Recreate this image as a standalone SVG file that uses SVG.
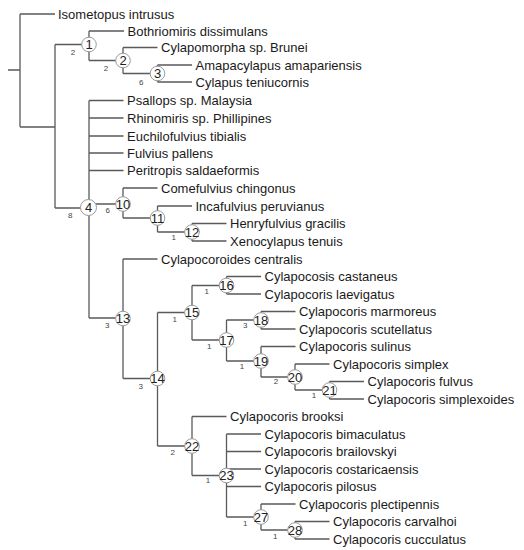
<svg xmlns="http://www.w3.org/2000/svg" width="524" height="550" viewBox="0 0 524 550">
<style>
.br{fill:none;stroke:#5a5a5a;stroke-width:1.3}
.nc{fill:#fff;stroke:#9a9a9a;stroke-width:1}
.nn{font-family:"Liberation Sans",Arial,sans-serif;font-size:13px;fill:#222;text-anchor:middle}
.bl{font-family:"Liberation Sans",Arial,sans-serif;font-size:8px;fill:#444;text-anchor:middle}
.lf{font-family:"Liberation Sans",Arial,sans-serif;font-size:13px;fill:#1a1a1a}
</style>
<rect width="524" height="550" fill="#fff"/>
<g id="connectors" class="br">
<path d="M8,70H20M20,14V127M20,14H55"/>
<path d="M20,127H55M55,44.5V208"/>
<path d="M55,44.5H89M89,31V60.5M89,31H124"/>
<path d="M89,60.5H123M123,47.5V73.5M123,47.5H157.5"/>
<path d="M123,73.5H157.5M157.5,65V82M157.5,65H192M157.5,82H192"/>
<path d="M55,208H89M89,100.5V318M89,100.5H123.5M89,118H123.5M89,136H123.5M89,153H123.5M89,170.5H123.5"/>
<path d="M89,204H123M123,188V218M123,188H157.5"/>
<path d="M123,218H157.5M157.5,206V232M157.5,206H192"/>
<path d="M157.5,232H192M192,223.5V241M192,223.5H226.5M192,241H226.5"/>
<path d="M89,318H123M123,259V378.5M123,259H157.5"/>
<path d="M123,378.5H157.5M157.5,312.5V446"/>
<path d="M157.5,312.5H192M192,285.5V340"/>
<path d="M192,285.5H226.5M226.5,276.5V294M226.5,276.5H261M226.5,294H261"/>
<path d="M192,340H226.5M226.5,320V361"/>
<path d="M226.5,320H261M261,311.5V329M261,311.5H295.5M261,329H295.5"/>
<path d="M226.5,361H261M261,346.5V377M261,346.5H295.5"/>
<path d="M261,377H295M295,364V390M295,364H329.5"/>
<path d="M295,390H329.5M329.5,381.5V399M329.5,381.5H364M329.5,399H364"/>
<path d="M157.5,446H192M192,416.5V475.5M192,416.5H226.5"/>
<path d="M192,475.5H226.5M226.5,434V517M226.5,434H261M226.5,451.5H261M226.5,469H261M226.5,486.5H261"/>
<path d="M226.5,517H261M261,504V530M261,504H295.5"/>
<path d="M261,530H295M295,521.5V539M295,521.5H329.5M295,539H329.5"/>
</g>
<g id="node1"><circle class="nc" cx="89" cy="44.5" r="7.3"/><text class="nn" x="89" y="49.2">1</text><text class="bl" x="73" y="55">2</text></g>
<g id="node2"><circle class="nc" cx="123" cy="60.5" r="7.3"/><text class="nn" x="123" y="65.2">2</text><text class="bl" x="106" y="70.5">2</text></g>
<g id="node3"><circle class="nc" cx="157.5" cy="73.5" r="7.3"/><text class="nn" x="157.5" y="78.2">3</text><text class="bl" x="141.3" y="84.6">6</text></g>
<g id="node4"><circle class="nc" cx="88.5" cy="207.5" r="8"/><text class="nn" x="88.5" y="212.2">4</text><text class="bl" x="70.2" y="218">8</text></g>
<g id="node10"><circle class="nc" cx="123" cy="204" r="7.3"/><text class="nn" x="123" y="208.7">10</text><text class="bl" x="107.7" y="212.7">6</text></g>
<g id="node11"><circle class="nc" cx="157.5" cy="218" r="7.3"/><text class="nn" x="157.5" y="222.7">11</text></g>
<g id="node12"><circle class="nc" cx="192" cy="232" r="7.3"/><text class="nn" x="192" y="236.7">12</text><text class="bl" x="173.7" y="240.4">1</text></g>
<g id="node13"><circle class="nc" cx="123" cy="318.5" r="7.3"/><text class="nn" x="123" y="323.2">13</text><text class="bl" x="107.3" y="327.9">3</text></g>
<g id="node14"><circle class="nc" cx="157.5" cy="378.5" r="7.3"/><text class="nn" x="157.5" y="383.2">14</text><text class="bl" x="140.7" y="388.9">3</text></g>
<g id="node15"><circle class="nc" cx="192" cy="312.5" r="7.3"/><text class="nn" x="192" y="317.2">15</text><text class="bl" x="174.7" y="322.2">1</text></g>
<g id="node16"><circle class="nc" cx="226.5" cy="285.5" r="7.3"/><text class="nn" x="226.5" y="290.2">16</text><text class="bl" x="206.7" y="294.2">1</text></g>
<g id="node17"><circle class="nc" cx="226.5" cy="340" r="7.3"/><text class="nn" x="226.5" y="344.7">17</text><text class="bl" x="209.3" y="349.4">1</text></g>
<g id="node18"><circle class="nc" cx="261" cy="320" r="7.3"/><text class="nn" x="261" y="324.7">18</text><text class="bl" x="245.3" y="327.9">3</text></g>
<g id="node19"><circle class="nc" cx="261" cy="361" r="7.3"/><text class="nn" x="261" y="365.7">19</text><text class="bl" x="242" y="369.4">1</text></g>
<g id="node20"><circle class="nc" cx="295" cy="377" r="7.3"/><text class="nn" x="295" y="381.7">20</text><text class="bl" x="276" y="383.9">2</text></g>
<g id="node21"><circle class="nc" cx="329.5" cy="390" r="7.3"/><text class="nn" x="329.5" y="394.7">21</text><text class="bl" x="314" y="398.4">1</text></g>
<g id="node22"><circle class="nc" cx="192" cy="446" r="7.3"/><text class="nn" x="192" y="450.7">22</text><text class="bl" x="172.7" y="454.9">2</text></g>
<g id="node23"><circle class="nc" cx="226.5" cy="475.5" r="7.3"/><text class="nn" x="226.5" y="480.2">23</text><text class="bl" x="208" y="483.4">1</text></g>
<g id="node27"><circle class="nc" cx="261" cy="517" r="7.3"/><text class="nn" x="261" y="521.7">27</text><text class="bl" x="245.3" y="525.7">1</text></g>
<g id="node28"><circle class="nc" cx="295" cy="530" r="7.3"/><text class="nn" x="295" y="534.7">28</text><text class="bl" x="275.3" y="539.1">1</text></g>
<g id="leaves" class="lf">
<g id="leaf-isometopus"><text x="58" y="18.5">Isometopus intrusus</text></g>
<g id="leaf-bothriomiris"><text x="127.5" y="35.5">Bothriomiris dissimulans</text></g>
<g id="leaf-cylapomorpha"><text x="161" y="52">Cylapomorpha sp. Brunei</text></g>
<g id="leaf-amapacylapus"><text x="195.5" y="69.5">Amapacylapus amapariensis</text></g>
<g id="leaf-cylapus"><text x="195.5" y="86.5">Cylapus teniucornis</text></g>
<g id="leaf-psallops"><text x="127" y="105">Psallops sp. Malaysia</text></g>
<g id="leaf-rhinomiris"><text x="127" y="122.5">Rhinomiris sp. Phillipines</text></g>
<g id="leaf-euchilofulvius"><text x="127" y="140.5">Euchilofulvius tibialis</text></g>
<g id="leaf-fulvius"><text x="127" y="157.5">Fulvius pallens</text></g>
<g id="leaf-peritropis"><text x="127" y="175">Peritropis saldaeformis</text></g>
<g id="leaf-comefulvius"><text x="161" y="192.5">Comefulvius chingonus</text></g>
<g id="leaf-incafulvius"><text x="195.5" y="210.5">Incafulvius peruvianus</text></g>
<g id="leaf-henryfulvius"><text x="230" y="228">Henryfulvius gracilis</text></g>
<g id="leaf-xenocylapus"><text x="230" y="245.5">Xenocylapus tenuis</text></g>
<g id="leaf-cylapocoroides"><text x="161" y="263.5">Cylapocoroides centralis</text></g>
<g id="leaf-castaneus"><text x="264.5" y="281">Cylapocosis castaneus</text></g>
<g id="leaf-laevigatus"><text x="264.5" y="298.5">Cylapocoris laevigatus</text></g>
<g id="leaf-marmoreus"><text x="299" y="316">Cylapocoris marmoreus</text></g>
<g id="leaf-scutellatus"><text x="299" y="333.5">Cylapocoris scutellatus</text></g>
<g id="leaf-sulinus"><text x="299" y="351">Cylapocoris sulinus</text></g>
<g id="leaf-simplex"><text x="333" y="368.5">Cylapocoris simplex</text></g>
<g id="leaf-fulvus"><text x="367.5" y="386">Cylapocoris fulvus</text></g>
<g id="leaf-simplexoides"><text x="367.5" y="403.5">Cylapocoris simplexoides</text></g>
<g id="leaf-brooksi"><text x="230" y="421">Cylapocoris brooksi</text></g>
<g id="leaf-bimaculatus"><text x="264.5" y="438.5">Cylapocoris bimaculatus</text></g>
<g id="leaf-brailovskyi"><text x="264.5" y="456">Cylapocoris brailovskyi</text></g>
<g id="leaf-costaricaensis"><text x="264.5" y="473.5">Cylapocoris costaricaensis</text></g>
<g id="leaf-pilosus"><text x="264.5" y="491">Cylapocoris pilosus</text></g>
<g id="leaf-plectipennis"><text x="299" y="508.5">Cylapocoris plectipennis</text></g>
<g id="leaf-carvalhoi"><text x="333" y="526">Cylapocoris carvalhoi</text></g>
<g id="leaf-cucculatus"><text x="333" y="543.5">Cylapocoris cucculatus</text></g>
</g>
</svg>
